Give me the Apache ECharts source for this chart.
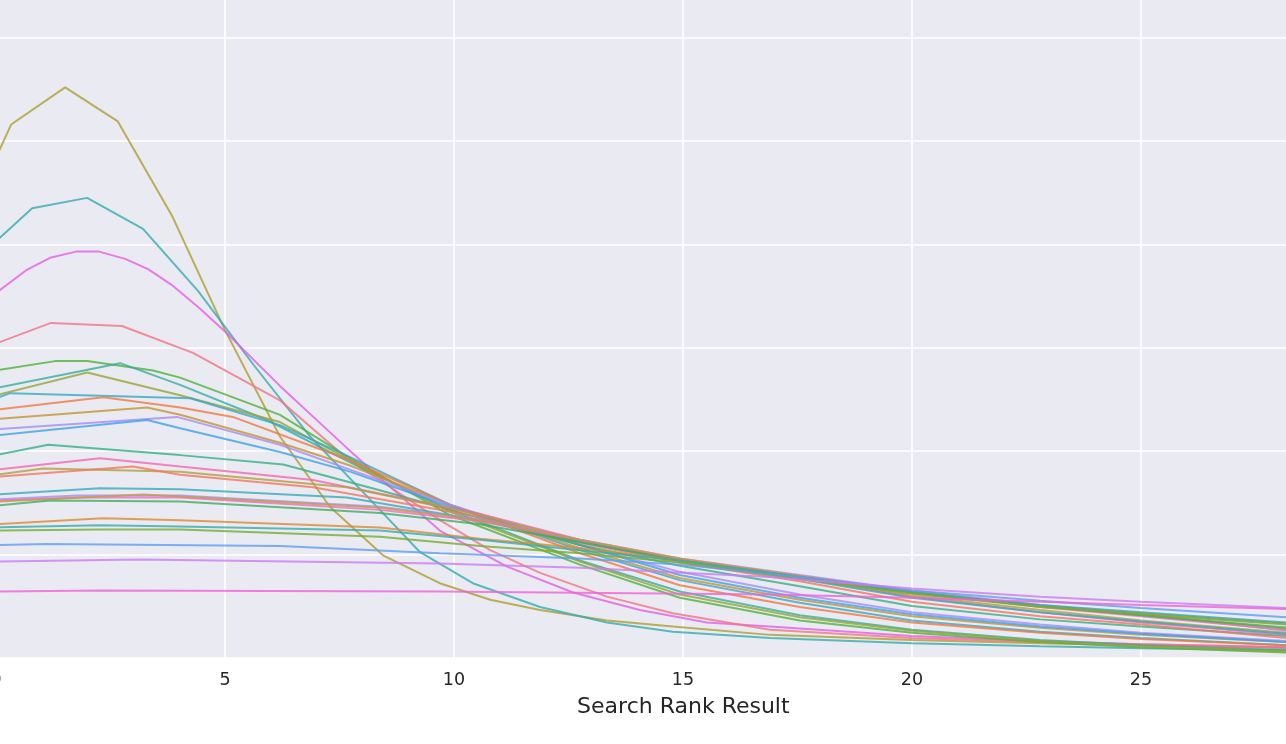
<!DOCTYPE html>
<html>
<head>
<meta charset="utf-8">
<script src="https://cdn.jsdelivr.net/npm/echarts@6/dist/echarts.min.js"></script>
<style>
html,body{margin:0;padding:0;background:#fff;}
#chart{width:1286px;height:744px;}
</style>
</head>
<body>
<div id="chart"></div>
<script>
// x = search rank result, y = density (one gridline = 1 unit; y labels are cropped off in the reference)
const xAxisTicks = [0, 5, 10, 15, 20, 25];
const xAxisTitle = 'Search Rank Result';

const lineA = [[0,4.84],[0.33,5.16],[1.51,5.52],[2.66,5.19],[3.84,4.28],[5.0,3.17],[6.2,2.14],[7.29,1.46],[8.45,0.99],[9.69,0.72],[10.79,0.56],[11.88,0.46],[13.34,0.36],[14.78,0.30],[16.9,0.22],[20,0.17],[22.8,0.14],[25,0.12],[28.17,0.09]];
const lineB = [[0,4.03],[0.79,4.35],[1.99,4.45],[3.21,4.15],[4.41,3.55],[5.63,2.83],[6.86,2.14],[8.06,1.58],[9.26,1.02],[10.41,0.72],[11.88,0.49],[13.34,0.34],[14.78,0.25],[16.9,0.19],[20,0.14],[22.8,0.11],[25,0.09],[28.17,0.07]];
const lineC = [[0,3.53],[0.66,3.75],[1.18,3.87],[1.75,3.93],[2.25,3.93],[2.82,3.86],[3.32,3.76],[3.86,3.60],[4.45,3.38],[5.04,3.14],[6.2,2.63],[7.66,2.03],[8.38,1.74],[9.69,1.23],[11.16,0.88],[12.6,0.63],[14.06,0.46],[15.52,0.34],[16.9,0.30],[20,0.21],[22.8,0.16],[25,0.13],[28.17,0.10]];
const lineD = [[0,3.04],[1.2,3.24],[2.75,3.21],[4.3,2.95],[6.2,2.49],[7.66,1.93],[9.69,1.33],[10.79,1.04],[11.88,0.82],[13.34,0.59],[14.78,0.43],[16.9,0.27],[20,0.19],[22.8,0.15],[25,0.13],[28.17,0.10]];
const lineE = [[0,2.78],[1.29,2.87],[1.99,2.87],[3.43,2.78],[4.02,2.71],[6.2,2.35],[7.73,1.93],[9.91,1.38],[12.75,0.90],[14.93,0.58],[17.55,0.36],[20,0.24],[22.8,0.15],[25,0.10],[28.17,0.05]];
const lineF = [[0,2.61],[2.71,2.85],[4.02,2.64],[5.92,2.30],[7.73,1.89],[9.91,1.43],[12.75,0.94],[14.93,0.64],[17.55,0.41],[20,0.27],[22.8,0.17],[25,0.12],[28.17,0.07]];
const lineG = [[0,2.54],[1.99,2.76],[4.02,2.54],[6.2,2.28],[7.73,1.91],[9.91,1.41],[12.75,0.93],[14.93,0.61],[17.55,0.39],[20,0.26],[22.8,0.16],[25,0.11],[28.17,0.06]];
const lineH = [[0,2.51],[0.31,2.56],[4.24,2.51],[6.2,2.25],[7.73,1.94],[9.91,1.48],[12.75,1.04],[14.93,0.75],[17.55,0.53],[20,0.36],[22.8,0.25],[25,0.19],[28.17,0.12]];
const lineI = [[0,2.40],[2.34,2.52],[4.02,2.42],[5.17,2.33],[7.73,1.91],[9.91,1.48],[12.75,1.01],[14.93,0.70],[17.55,0.49],[20,0.34],[22.8,0.24],[25,0.18],[28.17,0.12]];
const lineJ = [[0,2.31],[3.3,2.42],[4.02,2.35],[6.2,2.08],[7.73,1.86],[9.91,1.48],[12.75,1.06],[14.93,0.77],[17.55,0.56],[20,0.40],[22.8,0.29],[25,0.22],[28.17,0.15]];
const lineK = [[0,2.21],[3.95,2.33],[6.2,2.06],[7.73,1.82],[9.91,1.48],[12.75,1.09],[14.93,0.83],[17.55,0.61],[20,0.44],[22.8,0.32],[25,0.24],[28.17,0.16]];
const lineL = [[0,2.15],[3.3,2.30],[4.02,2.22],[6.2,1.99],[7.73,1.80],[9.91,1.46],[12.75,1.09],[14.93,0.80],[17.55,0.58],[20,0.42],[22.8,0.30],[25,0.23],[28.17,0.15]];
const lineM = [[0,1.96],[1.14,2.06],[4.02,1.96],[6.27,1.87],[8.38,1.62],[10.57,1.35],[12.75,1.09],[14.93,0.89],[17.55,0.69],[20,0.50],[22.8,0.37],[25,0.30],[28.17,0.21]];
const lineN = [[0,1.82],[2.27,1.93],[4.02,1.85],[6.92,1.72],[10.57,1.39],[12.75,1.14],[14.93,0.94],[17.55,0.77],[20,0.59],[22.8,0.44],[25,0.34],[28.17,0.22]];
const lineO = [[0,1.77],[1.03,1.83],[4.02,1.80],[7.66,1.65],[10.57,1.38],[12.75,1.13],[14.93,0.94],[17.55,0.78],[20,0.60],[22.8,0.46],[25,0.36],[28.17,0.24]];
const lineP = [[0,1.75],[2.99,1.85],[4.02,1.77],[6.92,1.65],[10.57,1.36],[12.75,1.11],[14.93,0.92],[17.55,0.74],[20,0.54],[22.8,0.40],[25,0.32],[28.17,0.19]];
const lineQ = [[0,1.58],[2.27,1.64],[4.02,1.63],[7.66,1.55],[10.57,1.33],[12.75,1.12],[14.93,0.94],[17.55,0.76],[20,0.58],[22.8,0.44],[25,0.35],[28.17,0.23]];
const lineR = [[0,1.53],[1.77,1.57],[4.02,1.57],[8.38,1.46],[10.57,1.34],[12.75,1.14],[14.93,0.96],[17.55,0.80],[20,0.65],[22.8,0.51],[25,0.42],[28.17,0.26]];
const lineS = [[0,1.52],[1.83,1.55],[4.02,1.55],[8.38,1.43],[10.57,1.32],[12.75,1.13],[14.93,0.95],[17.55,0.79],[20,0.64],[22.8,0.49],[25,0.40],[28.17,0.27]];
const lineT = [[0,1.51],[3.21,1.58],[4.02,1.56],[8.38,1.45],[10.57,1.33],[12.75,1.14],[14.93,0.96],[17.55,0.79],[20,0.64],[22.8,0.50],[25,0.41],[28.17,0.28]];
const lineU = [[0,1.47],[1.18,1.52],[4.02,1.51],[8.38,1.40],[10.57,1.29],[12.75,1.12],[14.93,0.94],[17.55,0.78],[20,0.63],[22.8,0.50],[25,0.41],[28.17,0.29]];
const lineV = [[0,1.29],[2.34,1.35],[4.02,1.33],[8.38,1.26],[10.57,1.15],[12.75,1.06],[14.93,0.94],[17.55,0.77],[20,0.62],[22.8,0.50],[25,0.43],[28.17,0.33]];
const lineW = [[0,1.26],[2.27,1.28],[4.02,1.27],[8.38,1.23],[10.57,1.14],[12.75,1.04],[14.93,0.94],[17.55,0.78],[20,0.63],[22.8,0.51],[25,0.44],[28.17,0.34]];
const lineW2 = [[0,1.23],[2.27,1.24],[4.02,1.24],[8.38,1.17],[10.57,1.08],[12.75,1.01],[14.93,0.92],[17.55,0.76],[20,0.62],[22.8,0.49],[25,0.42],[28.17,0.32]];
const lineX = [[0,1.09],[1.11,1.10],[6.2,1.08],[9.69,1.01],[12.75,0.96],[14.93,0.90],[17.55,0.78],[20,0.65],[22.8,0.55],[25,0.48],[28.17,0.39]];
const lineY = [[0,0.93],[3.14,0.95],[9.69,0.91],[12.75,0.87],[16.9,0.78],[20,0.67],[22.8,0.59],[25,0.54],[28.17,0.48]];
const lineZ = [[0,0.64],[2.27,0.65],[9.69,0.64],[16.9,0.61],[20,0.58],[22.8,0.54],[25,0.51],[28.17,0.47]];

const seriesNames = ['A','B','C','D','E','F','G','H','I','J','K','L','M','N','O','P','Q','R','S','T','U','V','W','W2','X','Y','Z'];
const seriesColors = ['#ae9d31','#36abae','#e45ee8','#f37483','#4fb13a','#36ad9f','#97a431','#38a8c5','#f0793f','#c39532','#a68cf4','#3ba3ec',
                      '#33af86','#f366b2','#b0a03a','#f47560','#37aab8','#9f90f4','#f06bc8','#c89a40','#3fae5f','#dc8932','#36abae','#77ab31',
                      '#5e9df0','#cc7af4','#f062d8'];
const seriesData = [lineA,lineB,lineC,lineD,lineE,lineF,lineG,lineH,lineI,lineJ,lineK,lineL,lineM,lineN,lineO,lineP,lineQ,lineR,lineS,lineT,lineU,lineV,lineW,lineW2,lineX,lineY,lineZ];

const chart = echarts.init(document.getElementById('chart'), null, {renderer: 'canvas'});
const textColor = '#262626';
chart.setOption({
  backgroundColor: '#ffffff',
  animation: false,
  grid: {
    left: -4, right: -10.7, top: -5, bottom: 86.4,
    containLabel: false, outerBoundsMode: 'none',
    show: true, backgroundColor: '#EAEAF2', borderWidth: 0
  },
  xAxis: {
    type: 'value', min: 0, max: 28.4, interval: 5,
    name: xAxisTitle, nameLocation: 'middle', nameGap: 39,
    nameTextStyle: {fontFamily: 'DejaVu Sans', fontSize: 22, color: textColor, padding: [0, 0, 0, 74]},
    axisLine: {show: false}, axisTick: {show: false},
    axisLabel: {
      fontFamily: 'DejaVu Sans', fontSize: 17.5, color: textColor, margin: 14,
      showMaxLabel: false,
      formatter: v => (xAxisTicks.indexOf(v) >= 0 ? String(v) : '')
    },
    splitLine: {show: true, lineStyle: {color: '#ffffff', width: 1.6}}
  },
  yAxis: {
    type: 'value', min: 0, max: 6.414, interval: 1,
    axisLine: {show: false}, axisTick: {show: false}, axisLabel: {show: false},
    splitLine: {show: true, lineStyle: {color: '#ffffff', width: 1.6}}
  },
  series: seriesData.map((d, i) => ({
    name: seriesNames[i], type: 'line', data: d,
    showSymbol: false, symbol: 'none', smooth: false, clip: true,
    lineStyle: {color: seriesColors[i], width: 2, opacity: 0.8},
    emphasis: {disabled: true}
  }))
});
</script>
</body>
</html>
